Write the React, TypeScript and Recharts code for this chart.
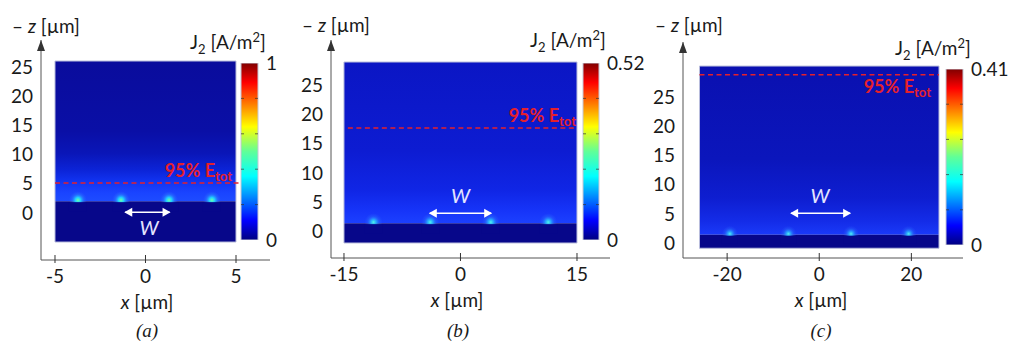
import React from "react";
import {
  ScatterChart,
  Scatter,
  XAxis,
  YAxis,
  ReferenceArea,
  ReferenceLine,
  ReferenceDot,
  BarChart,
  Bar,
} from "recharts";

const FONT = "Lato, 'Open Sans', sans-serif";
const FS = 19;

// ---- panel (a) ----
const xTicksA = [-5, 0, 5];
const zTicksA = [0, 5, 10, 15, 20, 25];
const boxXA = [-5, 5];
const boxZA = [-5, 26];
const ifaceA = 2.0;
const e95A = 5.1;
const spotsA = [-3.73, -1.35, 1.3, 3.67];
const arrowXA = [-1.12, 1.33];
const arrowZA = 0.1;
const wPosA = [0.2, -2.6];
const cbMaxA = 1;
const cbLabelsA = [0, 0.5, 1];
const cbTextA = ["0", "0.5", "1"];
const cbMinorA = [0.1, 0.2, 0.3, 0.4, 0.5, 0.6, 0.7, 0.8, 0.9];

// ---- panel (b) ----
const xTicksB = [-15, 0, 15];
const zTicksB = [0, 5, 10, 15, 20, 25];
const boxXB = [-15, 15];
const boxZB = [-2, 29];
const ifaceB = 1.4;
const e95B = 17.7;
const spotsB = [-11.2, -3.9, 3.9, 11.3];
const arrowXB = [-3.95, 3.95];
const arrowZB = 3.1;
const wPosB = [0.0, 6.05];
const cbMaxB = 0.52;
const cbLabelsB = [0, 0.26, 0.52];
const cbTextB = ["0", "0.26", "0.52"];
const cbMinorB = [0.052, 0.104, 0.156, 0.208, 0.26, 0.312, 0.364, 0.416, 0.468];

// ---- panel (c) ----
const xTicksC = [-20, 0, 20];
const zTicksC = [0, 5, 10, 15, 20, 25];
const boxXC = [-26, 26];
const boxZC = [-0.9, 30.3];
const ifaceC = 1.4;
const e95C = 28.8;
const spotsC = [-19.4, -6.7, 6.9, 19.4];
const arrowXC = [-6.1, 6.7];
const arrowZC = 5.1;
const wPosC = [0.15, 8.05];
const cbMaxC = 0.41;
const cbLabelsC = [0, 0.205, 0.41];
const cbTextC = ["0", "0.20", "0.41"];
const cbMinorC = [0.041, 0.082, 0.123, 0.164, 0.205, 0.246, 0.287, 0.328, 0.369];

const jet: [number, string][] = [
  [0, "#000080"],
  [0.11, "#0000ff"],
  [0.36, "#00ffff"],
  [0.5, "#60ff98"],
  [0.64, "#ffff00"],
  [0.89, "#ff0000"],
  [1, "#800000"],
];

type PanelProps = {
  id: string;
  left: number;
  width: number;
  margin: { top: number; right: number; bottom: number; left: number };
  yWidth: number;
  xDomain: [number, number];
  zDomain: [number, number];
  xTicks: number[];
  zTicks: number[];
  boxX: number[];
  boxZ: number[];
  iface: number;
  e95: number;
  dashX: number[];
  spots: number[];
  arrowX: number[];
  arrowZ: number;
  wPos: number[];
  medStops: [number, string][];
  spotStops: [number, string, number][];
  spotR: number;
  e95dx: number;
  e95dy: number;
};

function HeatPanel(p: PanelProps) {
  const spots = p.spots.map((x) => ({ x, z: p.iface }));
  const arrow = p.arrowX.map((x) => ({ x, z: p.arrowZ }));
  const minArrow = Math.min(...p.arrowX);
  const sub = "#07078a";

  const spotShape = (s: any) => (
    <g>
      <circle cx={s.cx} cy={s.cy - 1} r={p.spotR} fill={`url(#spot-${p.id})`} />
      <rect x={s.cx - p.spotR} y={s.cy + 1} width={p.spotR * 2} height={p.spotR} fill={sub} />
    </g>
  );
  const arrowHead = (s: any) => {
    const left = s.payload.x === minArrow;
    const d = left
      ? `M${s.cx - 1},${s.cy} l8,-4.5 l0,9 z`
      : `M${s.cx + 1},${s.cy} l-8,-4.5 l0,9 z`;
    return <path d={d} fill="#ffffff" />;
  };

  return (
    <div style={{ position: "absolute", left: p.left, top: 0 }}>
      <ScatterChart width={p.width} height={342} margin={p.margin}>
        <defs>
          <linearGradient id={`med-${p.id}`} x1="0" y1="1" x2="0" y2="0">
            {p.medStops.map(([o, c]) => (
              <stop key={o} offset={o} stopColor={c} />
            ))}
          </linearGradient>
          <radialGradient id={`spot-${p.id}`}>
            {p.spotStops.map(([o, c, a]) => (
              <stop key={o} offset={o} stopColor={c} stopOpacity={a} />
            ))}
          </radialGradient>
        </defs>
        <XAxis
          type="number"
          dataKey="x"
          domain={p.xDomain}
          ticks={p.xTicks}
          allowDataOverflow
          axisLine={{ stroke: "#555" }}
          tickLine={false}
          tickSize={0}
          tickMargin={0}
          height={30}
          tick={(t: any) => (
            <g>
              <line x1={t.x} x2={t.x} y1={t.y - 5} y2={t.y + 3} stroke="#333" />
              <text
                x={t.x}
                y={t.y + 23}
                textAnchor="middle"
                fontFamily={FONT}
                fontSize={FS}
                fill="#1a1a1a"
              >
                {t.payload.value}
              </text>
            </g>
          )}
        />
        <YAxis
          type="number"
          dataKey="z"
          domain={p.zDomain}
          ticks={p.zTicks}
          allowDataOverflow
          width={p.yWidth}
          axisLine={{ stroke: "#555" }}
          tickLine={false}
          tick={{ fontSize: FS, fill: "#1a1a1a", fontFamily: FONT }}
        />
        <ReferenceArea
          x1={p.boxX[0]}
          x2={p.boxX[1]}
          y1={p.iface}
          y2={p.boxZ[1]}
          fill={`url(#med-${p.id})`}
          fillOpacity={1}
          stroke="none"
        />
        <ReferenceArea
          x1={p.boxX[0]}
          x2={p.boxX[1]}
          y1={p.boxZ[0]}
          y2={p.iface}
          fill={sub}
          fillOpacity={1}
          stroke="none"
        />
        <ReferenceArea
          x1={p.boxX[0]}
          x2={p.boxX[1]}
          y1={p.boxZ[0]}
          y2={p.boxZ[1]}
          fill="none"
          stroke="#b9bddc"
          strokeWidth={1}
        />
        <Scatter data={spots} shape={spotShape} isAnimationActive={false} />
        <ReferenceLine
          segment={[
            { x: p.dashX[0], y: p.e95 },
            { x: p.dashX[1], y: p.e95 },
          ]}
          stroke="#e5202c"
          strokeWidth={1.4}
          strokeDasharray="5 3.5"
          ifOverflow="visible"
        />
        <ReferenceDot
          x={p.boxX[1]}
          y={p.e95}
          r={0}
          ifOverflow="visible"
          shape={(s: any) => (
            <text
              x={s.cx + p.e95dx}
              y={s.cy + p.e95dy}
              textAnchor="end"
              fontFamily={FONT}
              fontWeight={700}
              fontSize={18}
              fill="#e5202c"
            >
              95% E
              <tspan fontSize={13} dy={4}>
                tot
              </tspan>
            </text>
          )}
        />
        <Scatter
          data={arrow}
          line={{ stroke: "#ffffff", strokeWidth: 1.6 }}
          shape={arrowHead}
          isAnimationActive={false}
        />
        <ReferenceDot
          x={p.wPos[0]}
          y={p.wPos[1]}
          r={0}
          ifOverflow="visible"
          shape={(s: any) => (
            <text
              x={s.cx}
              y={s.cy + 7}
              textAnchor="middle"
              fontFamily={FONT}
              fontStyle="italic"
              fontSize={20}
              fill="#e4e4ff"
            >
              W
            </text>
          )}
        />
        <ReferenceDot
          x={p.xDomain[0]}
          y={p.zDomain[1]}
          r={0}
          ifOverflow="visible"
          shape={(s: any) => (
            <path d={`M${s.cx},${s.cy} l-4,11 l8,0 z`} fill="#333" />
          )}
        />
      </ScatterChart>
    </div>
  );
}

type CbProps = {
  id: string;
  left: number;
  top: number;
  height: number;
  barW: number;
  max: number;
  labels: number[];
  texts: string[];
  minor: number[];
};

function ColorBar(c: CbProps) {
  const data = [{ name: "J2", v: c.max }];
  const ticks = Array.from(new Set([...c.labels, ...c.minor])).sort((a, b) => a - b);
  const yW = 58;
  return (
    <div style={{ position: "absolute", left: c.left - 5, top: 0 }}>
      <BarChart
        width={c.barW + 5 + yW}
        height={342}
        data={data}
        margin={{ top: c.top, bottom: 342 - c.top - c.height, left: 5, right: 0 }}
        barCategoryGap={0}
      >
        <defs>
          <linearGradient id={`jet-${c.id}`} x1="0" y1="1" x2="0" y2="0">
            {jet.map(([o, col]) => (
              <stop key={o} offset={o} stopColor={col} />
            ))}
          </linearGradient>
        </defs>
        <XAxis dataKey="name" hide />
        <YAxis
          orientation="right"
          domain={[0, c.max]}
          ticks={ticks}
          allowDataOverflow
          width={yW}
          axisLine={false}
          tickLine={false}
          tickSize={0}
          tickMargin={0}
          tick={(t: any) => {
            const v = t.payload.value;
            const i = c.labels.indexOf(v);
            const inner = v > 0 && v < c.max;
            return (
              <g>
                {inner && (
                  <line x1={t.x - c.barW} x2={t.x - c.barW + 3} y1={t.y} y2={t.y} stroke="#333" strokeOpacity={0.7} />
                )}
                {inner && (
                  <line x1={t.x - 3} x2={t.x} y1={t.y} y2={t.y} stroke="#333" strokeOpacity={0.7} />
                )}
                {i >= 0 && (
                  <text
                    x={t.x + 8}
                    y={t.y}
                    dy="0.36em"
                    fontFamily={FONT}
                    fontSize={FS}
                    fill="#1a1a1a"
                  >
                    {c.texts[i]}
                  </text>
                )}
              </g>
            );
          }}
        />
        <Bar dataKey="v" fill={`url(#jet-${c.id})`} stroke="#c4c6d4" isAnimationActive={false} />
      </BarChart>
    </div>
  );
}

function Txt(props: {
  x: number;
  y: number;
  h?: number;
  center?: boolean;
  style?: React.CSSProperties;
  children: React.ReactNode;
}) {
  const h = props.h ?? 22;
  return (
    <div
      style={{
        position: "absolute",
        left: props.x,
        top: props.y - h / 2,
        transform: props.center ? "translateX(-50%)" : undefined,
        whiteSpace: "nowrap",
        fontFamily: FONT,
        fontSize: FS,
        lineHeight: `${h}px`,
        color: "#1a1a1a",
        ...props.style,
      }}
    >
      {props.children}
    </div>
  );
}

const zLabel = (
  <>
    – <i>z</i> [µm]
  </>
);
const xLabel = (
  <>
    <i>x</i> [µm]
  </>
);
const jLabel = (
  <>
    J<sub style={{ fontSize: 13, lineHeight: 0 }}>2</sub> [A/m<sup style={{ fontSize: 13, lineHeight: 0 }}>2</sup>]
  </>
);
const capStyle: React.CSSProperties = {
  fontFamily: "'Liberation Serif', serif",
  fontStyle: "italic",
  fontSize: 19,
};

export default function App() {
  return (
    <div
      style={{
        position: "absolute",
        left: 0,
        top: 0,
        width: 1011,
        height: 342,
        background: "#ffffff",
        overflow: "hidden",
      }}
    >
      <HeatPanel
        id="a"
        left={0}
        width={300}
        margin={{ top: 40, right: 30, bottom: 52, left: 0 }}
        yWidth={41}
        xDomain={[-5.773, 6.878]}
        zDomain={[-8.08, 29.6]}
        xTicks={xTicksA}
        zTicks={zTicksA}
        boxX={boxXA}
        boxZ={boxZA}
        iface={ifaceA}
        e95={e95A}
        dashX={[-5, 5.25]}
        spots={spotsA}
        arrowX={arrowXA}
        arrowZ={arrowZA}
        wPos={wPosA}
        medStops={[
          [0, "#1e4cff"],
          [0.06, "#1a44ff"],
          [0.13, "#1236f4"],
          [0.22, "#0c24d8"],
          [0.34, "#0a16b8"],
          [0.5, "#0a0fa6"],
          [1, "#0a0c9c"],
        ]}
        spotStops={[
          [0, "#70ffa8", 1],
          [0.3, "#20d8ff", 0.95],
          [0.65, "#2a80ff", 0.5],
          [1, "#2a60ff", 0],
        ]}
        spotR={9}
        e95dx={-4}
        e95dy={-6}
      />
      <HeatPanel
        id="b"
        left={300}
        width={330}
        margin={{ top: 40, right: 20, bottom: 54, left: 0 }}
        yWidth={31}
        xDomain={[-16.67, 19.25]}
        zDomain={[-4.57, 32.77]}
        xTicks={xTicksB}
        zTicks={zTicksB}
        boxX={boxXB}
        boxZ={boxZB}
        iface={ifaceB}
        e95={e95B}
        dashX={[-14.5, 15]}
        spots={spotsB}
        arrowX={arrowXB}
        arrowZ={arrowZB}
        wPos={wPosB}
        medStops={[
          [0, "#1c40ff"],
          [0.08, "#1634f8"],
          [0.2, "#1026e6"],
          [0.45, "#0d1cd2"],
          [1, "#0b16c4"],
        ]}
        spotStops={[
          [0, "#50f8e8", 1],
          [0.3, "#28b8ff", 0.85],
          [0.65, "#2a70ff", 0.4],
          [1, "#2a60ff", 0],
        ]}
        spotR={9}
        e95dx={-1}
        e95dy={-6}
      />
      <HeatPanel
        id="c"
        left={640}
        width={371}
        margin={{ top: 42, right: 48, bottom: 54, left: 0 }}
        yWidth={43}
        xDomain={[-29.58, 31.21]}
        zDomain={[-2.57, 34.42]}
        xTicks={xTicksC}
        zTicks={zTicksC}
        boxX={boxXC}
        boxZ={boxZC}
        iface={ifaceC}
        e95={e95C}
        dashX={[-26, 26]}
        spots={spotsC}
        arrowX={arrowXC}
        arrowZ={arrowZC}
        wPos={wPosC}
        medStops={[
          [0, "#1a3af8"],
          [0.08, "#142ce8"],
          [0.22, "#0e1ed0"],
          [0.45, "#0b16bc"],
          [1, "#0a10b0"],
        ]}
        spotStops={[
          [0, "#50f0f0", 1],
          [0.3, "#28b0ff", 0.8],
          [0.65, "#2a70ff", 0.35],
          [1, "#2a60ff", 0],
        ]}
        spotR={8}
        e95dx={-8}
        e95dy={18}
      />

      <ColorBar id="a" left={241} top={63} height={177} barW={17} max={cbMaxA} labels={cbLabelsA} texts={cbTextA} minor={cbMinorA} />
      <ColorBar id="b" left={583} top={63} height={177} barW={16} max={cbMaxB} labels={cbLabelsB} texts={cbTextB} minor={cbMinorB} />
      <ColorBar id="c" left={946} top={69} height={176} barW={17} max={cbMaxC} labels={cbLabelsC} texts={cbTextC} minor={cbMinorC} />

      <Txt x={12} y={26}>{zLabel}</Txt>
      <Txt x={302} y={25}>{zLabel}</Txt>
      <Txt x={655} y={25}>{zLabel}</Txt>

      <Txt x={190} y={42}>{jLabel}</Txt>
      <Txt x={530} y={40}>{jLabel}</Txt>
      <Txt x={895} y={48}>{jLabel}</Txt>

      <Txt x={147} y={302} center>{xLabel}</Txt>
      <Txt x={457} y={300} center>{xLabel}</Txt>
      <Txt x={821} y={300} center>{xLabel}</Txt>

      <Txt x={147} y={331} h={18} center style={capStyle}>(a)</Txt>
      <Txt x={458} y={331} h={18} center style={capStyle}>(b)</Txt>
      <Txt x={821} y={331} h={18} center style={capStyle}>(c)</Txt>
    </div>
  );
}
